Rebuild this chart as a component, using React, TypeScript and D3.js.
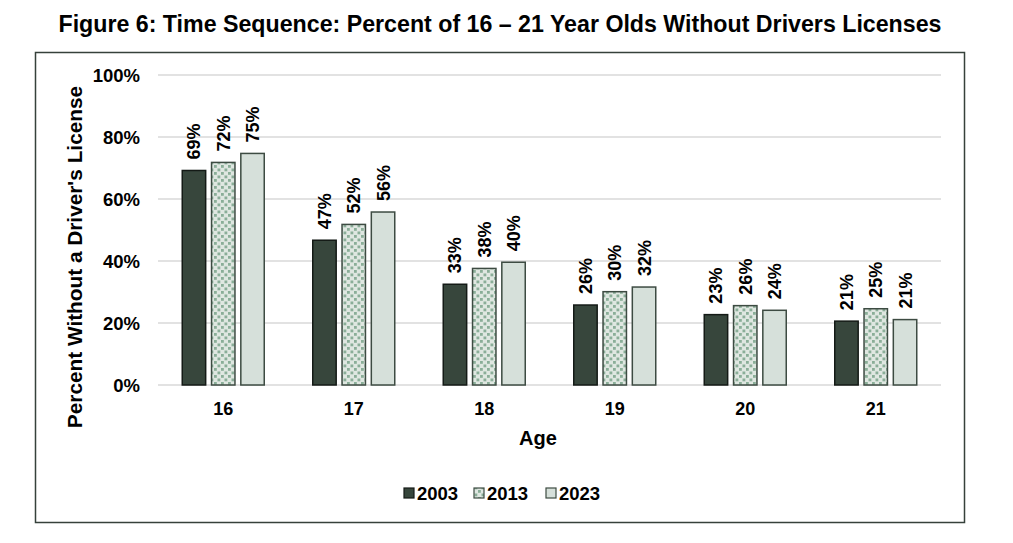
import { useEffect, useRef } from 'react';
import * as d3 from 'd3';

const AGES = ['16', '17', '18', '19', '20', '21'];
const YEARS = ['2003', '2013', '2023'];
const VALUES_2003 = [69.2, 46.7, 32.5, 25.8, 22.7, 20.6];
const VALUES_2013 = [71.8, 51.8, 37.6, 30.1, 25.6, 24.6];
const VALUES_2023 = [74.7, 55.8, 39.6, 31.6, 24.1, 21.1];
const Y_TICKS = [0, 20, 40, 60, 80, 100];

const TITLE = 'Figure 6: Time Sequence: Percent of 16 \u2013 21 Year Olds Without Drivers Licenses';
const FONT = "'Liberation Sans', Arial, sans-serif";

const FILLS: Record<string, string> = {
  '2003': '#37463c',
  '2013': 'url(#dots)',
  '2023': '#d6e0da',
};
const STROKES: Record<string, string> = {
  '2003': '#141a16',
  '2013': '#3d4b42',
  '2023': '#3d4b42',
};

export default function App() {
  const svgRef = useRef<SVGSVGElement>(null);
  const width = 1013;
  const height = 543;

  useEffect(() => {
    if (!svgRef.current) return;
    const svg = d3.select(svgRef.current);
    svg.selectAll('*').remove();

    // Dotted pattern for the 2013 series
    const defs = svg.append('defs');
    const pat = defs
      .append('pattern')
      .attr('id', 'dots')
      .attr('patternUnits', 'userSpaceOnUse')
      .attr('width', 7)
      .attr('height', 7);
    pat.append('rect').attr('width', 7).attr('height', 7).attr('fill', '#dfe7e1');
    pat.append('rect').attr('x', 0.5).attr('y', 0.5).attr('width', 2.8).attr('height', 2.8).attr('fill', '#8aae98');
    pat.append('rect').attr('x', 4).attr('y', 4).attr('width', 2.8).attr('height', 2.8).attr('fill', '#8aae98');

    // Frame
    svg
      .append('rect')
      .attr('x', 35.5)
      .attr('y', 52.5)
      .attr('width', 929)
      .attr('height', 470)
      .attr('fill', 'none')
      .attr('stroke', '#36413b')
      .attr('stroke-width', 1.5);

    // Title
    svg
      .append('text')
      .attr('x', 500)
      .attr('y', 32)
      .attr('text-anchor', 'middle')
      .attr('font-family', FONT)
      .attr('font-weight', 'bold')
      .attr('font-size', 23.2)
      .attr('fill', '#000')
      .text(TITLE);

    const x = d3.scaleBand<string>().domain(AGES).range([158, 941]);
    const xSub = d3.scaleBand<string>().domain(YEARS).range([-41, 41]).paddingInner(0.2);
    const y = d3.scaleLinear().domain([0, 100]).range([385, 75]);

    // Gridlines
    svg
      .append('g')
      .selectAll('line')
      .data(Y_TICKS)
      .join('line')
      .attr('x1', 158)
      .attr('x2', 941)
      .attr('y1', (d) => y(d))
      .attr('y2', (d) => y(d))
      .attr('stroke', '#d9d9d9')
      .attr('stroke-width', 1.5);

    // Y tick labels
    svg
      .append('g')
      .selectAll('text')
      .data(Y_TICKS)
      .join('text')
      .attr('x', 140)
      .attr('y', (d) => y(d))
      .attr('dy', '0.36em')
      .attr('text-anchor', 'end')
      .attr('font-family', FONT)
      .attr('font-weight', 'bold')
      .attr('font-size', 18.5)
      .text((d) => `${d}%`);

    // Y axis title
    svg
      .append('text')
      .attr('transform', `translate(82,257) rotate(-90)`)
      .attr('text-anchor', 'middle')
      .attr('font-family', FONT)
      .attr('font-weight', 'bold')
      .attr('font-size', 20.8)
      .text("Percent Without a Driver's License");

    // X tick labels
    svg
      .append('g')
      .selectAll('text')
      .data(AGES)
      .join('text')
      .attr('x', (d) => (x(d) ?? 0) + x.bandwidth() / 2)
      .attr('y', 415)
      .attr('text-anchor', 'middle')
      .attr('font-family', FONT)
      .attr('font-weight', 'bold')
      .attr('font-size', 18)
      .text((d) => d);

    // X axis title
    svg
      .append('text')
      .attr('x', 538)
      .attr('y', 445)
      .attr('text-anchor', 'middle')
      .attr('font-family', FONT)
      .attr('font-weight', 'bold')
      .attr('font-size', 20)
      .text('Age');

    const series = [VALUES_2003, VALUES_2013, VALUES_2023];
    const rows = AGES.flatMap((age, i) =>
      YEARS.map((yr, j) => ({ age, yr, value: series[j][i] }))
    );

    const cx = (d: { age: string; yr: string }) =>
      (x(d.age) ?? 0) + x.bandwidth() / 2 + (xSub(d.yr) ?? 0);

    // Bars
    svg
      .append('g')
      .selectAll('rect')
      .data(rows)
      .join('rect')
      .attr('x', (d) => cx(d))
      .attr('y', (d) => y(d.value))
      .attr('width', xSub.bandwidth())
      .attr('height', (d) => y(0) - y(d.value))
      .attr('fill', (d) => FILLS[d.yr])
      .attr('stroke', (d) => STROKES[d.yr])
      .attr('stroke-width', 1.5);

    // Value labels
    svg
      .append('g')
      .selectAll('text')
      .data(rows)
      .join('text')
      .attr(
        'transform',
        (d) => `translate(${cx(d) + xSub.bandwidth() / 2},${y(d.value) - 11}) rotate(-90)`
      )
      .attr('dy', '0.36em')
      .attr('text-anchor', 'start')
      .attr('font-family', FONT)
      .attr('font-weight', 'bold')
      .attr('font-size', 18)
      .text((d) => `${Math.round(d.value)}%`);

    // Legend
    const legendX = [404, 474, 546];
    const legend = svg
      .append('g')
      .selectAll('g')
      .data(YEARS)
      .join('g')
      .attr('transform', (_d, i) => `translate(${legendX[i]},493)`);
    legend
      .append('rect')
      .attr('x', 0)
      .attr('y', -5)
      .attr('width', 10)
      .attr('height', 10)
      .attr('fill', (d) => FILLS[d])
      .attr('stroke', (d) => STROKES[d])
      .attr('stroke-width', 1.2);
    legend
      .append('text')
      .attr('x', 13)
      .attr('y', 0)
      .attr('dy', '0.36em')
      .attr('font-family', FONT)
      .attr('font-weight', 'bold')
      .attr('font-size', 18.5)
      .text((d) => d);
  }, []);

  return (
    <div style={{ position: 'absolute', left: 0, top: 0 }}>
      <svg ref={svgRef} width={width} height={height} style={{ display: 'block', background: '#fff' }} />
    </div>
  );
}
